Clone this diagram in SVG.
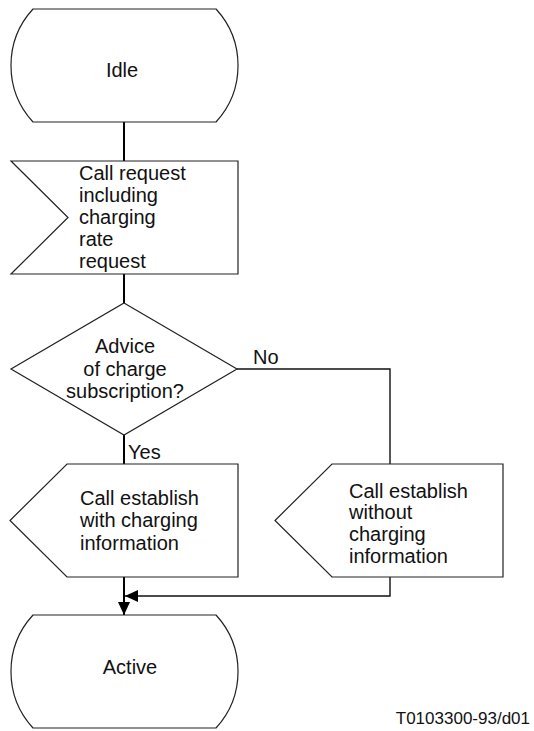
<svg xmlns="http://www.w3.org/2000/svg" width="534" height="731" viewBox="0 0 534 731">
<defs>
<style>
.shape{fill:#fff;stroke:#222;stroke-width:1.2}
.t{font-family:"Liberation Sans",Arial,sans-serif;font-size:20px;fill:#111}
.c{fill:none;stroke:#000;stroke-width:2}
.ct{fill:none;stroke:#111;stroke-width:1.4}
</style>
<marker id="ah" markerWidth="13" markerHeight="12" refX="13" refY="6" orient="auto" markerUnits="userSpaceOnUse">
<path d="M0,0 L13,6 L0,12 Z" fill="#000"/>
</marker>
</defs>
<rect width="534" height="731" fill="#fff"/>
<g id="connectors">
<line class="c" x1="124" y1="122" x2="124" y2="161"/>
<line class="c" x1="124" y1="274" x2="124" y2="303"/>
<line class="c" x1="124" y1="435" x2="124" y2="464"/>
<polyline class="ct" points="237,369 390,369 390,464"/>
<line class="c" x1="124" y1="577" x2="124" y2="615" marker-end="url(#ah)"/>
<polyline class="ct" points="390,577 390,596 125,596" marker-end="url(#ah)"/>
<text class="t" x="253" y="364">No</text>
<text class="t" x="128" y="459">Yes</text>
</g>
<g id="idle">
<path class="shape" d="M33,9 L216,9 A83.5,83.5 0 0 1 216,122 L33,122 A83.5,83.5 0 0 1 33,9 Z"/>
<text class="t" x="122" y="77" text-anchor="middle">Idle</text>
</g>
<g id="call-request">
<path class="shape" d="M11,161 L238,161 L238,274 L11,274 L68,217.5 Z"/>
<text class="t" x="79" y="180">Call request</text>
<text class="t" x="79" y="202">including</text>
<text class="t" x="79" y="224">charging</text>
<text class="t" x="79" y="246">rate</text>
<text class="t" x="79" y="268">request</text>
</g>
<g id="decision">
<path class="shape" d="M124,303 L237,369 L124,435 L11,369 Z"/>
<text class="t" x="125" y="353" text-anchor="middle">Advice</text>
<text class="t" x="125" y="376" text-anchor="middle">of charge</text>
<text class="t" x="125" y="398" text-anchor="middle">subscription?</text>
</g>
<g id="establish-with">
<path class="shape" d="M67,464 L238,464 L238,577 L67,577 L10,520.5 Z"/>
<text class="t" x="80" y="505">Call establish</text>
<text class="t" x="80" y="527">with charging</text>
<text class="t" x="80" y="550">information</text>
</g>
<g id="establish-without">
<path class="shape" d="M332,464 L503,464 L503,577 L332,577 L275,520.5 Z"/>
<text class="t" x="349" y="498">Call establish</text>
<text class="t" x="349" y="519">without</text>
<text class="t" x="349" y="541">charging</text>
<text class="t" x="349" y="563">information</text>
</g>
<g id="active">
<path class="shape" d="M33,615 L216,615 A83.5,83.5 0 0 1 216,728 L33,728 A83.5,83.5 0 0 1 33,615 Z"/>
<text class="t" x="130" y="674" text-anchor="middle">Active</text>
</g>
<text class="t" x="530" y="724" text-anchor="end" style="font-size:17px">T0103300-93/d01</text>
</svg>
